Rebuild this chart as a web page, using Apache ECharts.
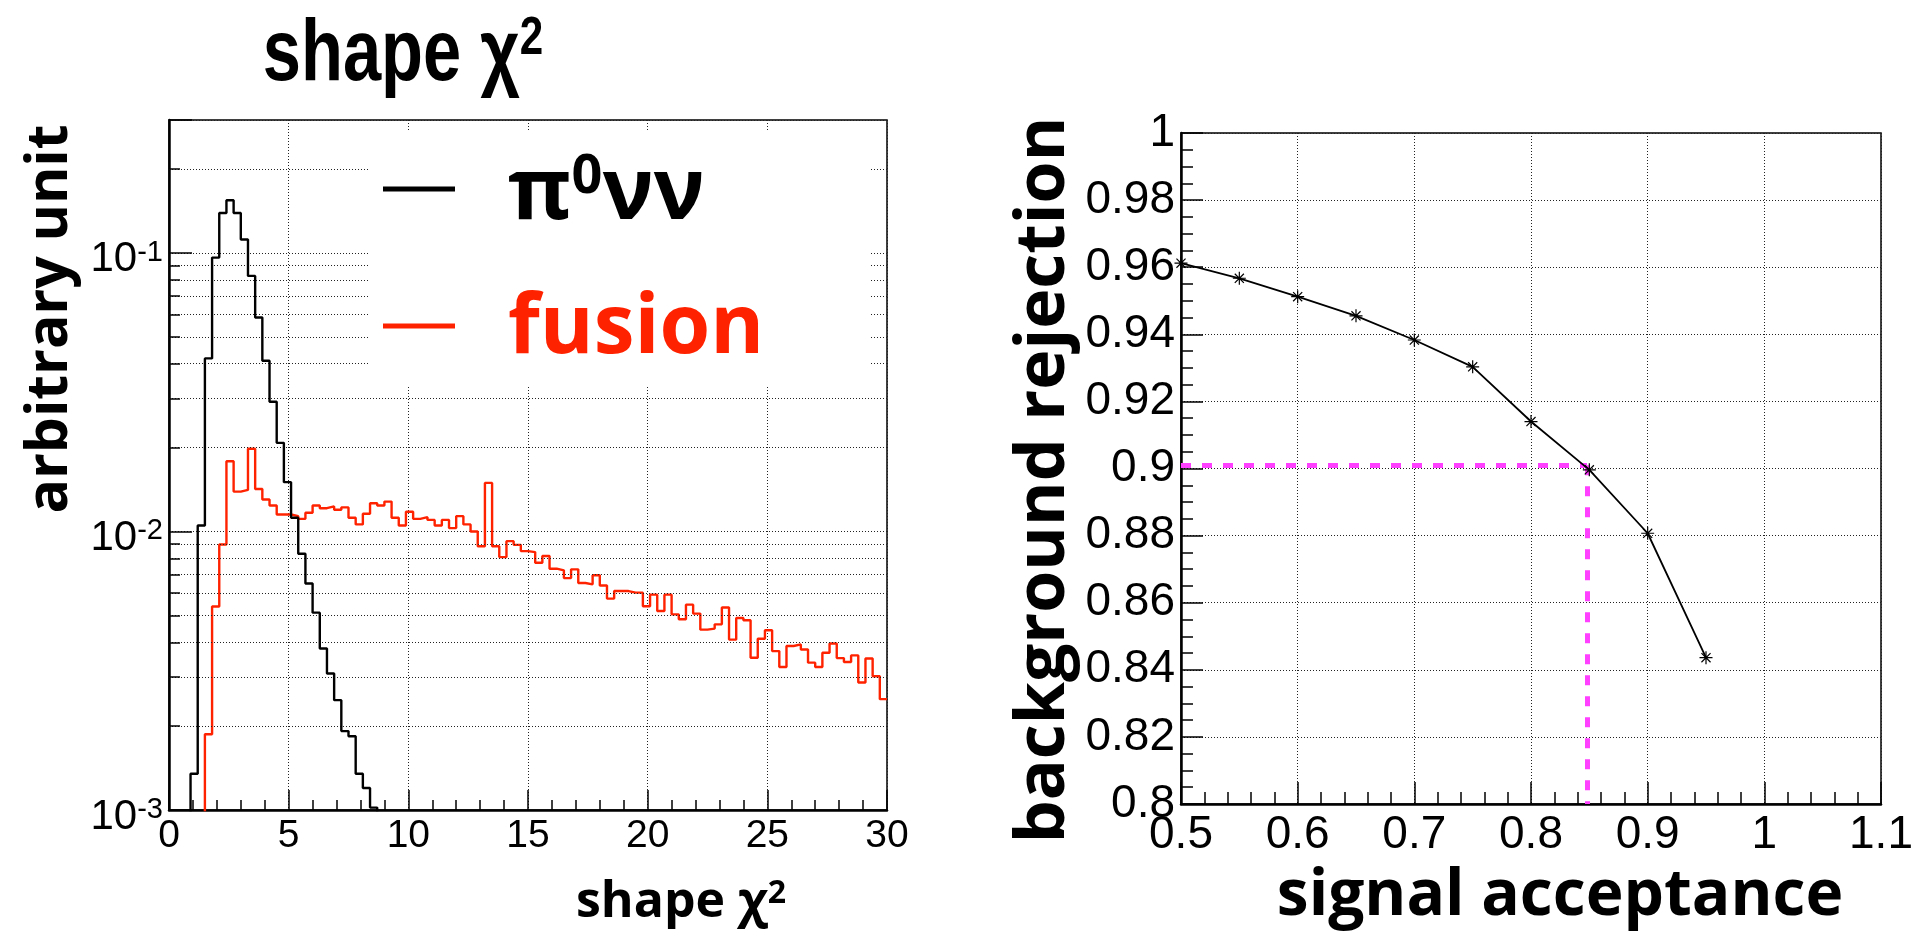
<!DOCTYPE html>
<html><head><meta charset="utf-8">
<script src="https://cdn.jsdelivr.net/npm/echarts@6/dist/echarts.min.js"></script>
<style>html,body{margin:0;padding:0;background:#fff;}#c{width:1930px;height:937px;}</style>
</head><body><div id="c"></div><script>
// ---------- data ----------
const binWidth = 0.3;           // histogram bin width (shape chi2 units), 100 bins 0..30
const pi0nunu = [0,0,0,0.00135,0.0105,0.0418,0.0962,0.139,0.1545,0.139,
  0.1117,0.0827,0.0586,0.041,0.0292,0.0208,0.01503,0.0112,0.00832,0.0065,
  0.00511,0.0038,0.00309,0.00248,0.00192,0.00184,0.00135,0.0012,0.00102,0,
  0,0,0,0,0,0,0,0,0,0, 0,0,0,0,0,0,0,0,0,0, 0,0,0,0,0,0,0,0,0,0,
  0,0,0,0,0,0,0,0,0,0, 0,0,0,0,0,0,0,0,0,0, 0,0,0,0,0,0,0,0,0,0,
  0,0,0,0,0,0,0,0,0,0];
const fusion = [0,0,0,0,0,0.00187,0.00538,0.00898,0.01786,0.0139,
  0.0141,0.0198,0.0142,0.01303,0.0124,0.0115,0.0115,0.01135,0.0111,0.01167,
  0.0124,0.01212,0.0123,0.01197,0.0122,0.0112,0.0106,0.01157,0.01263,0.0124,
  0.0128,0.0112,0.0105,0.01177,0.0111,0.01125,0.0110,0.0105,0.0110,0.01028,
  0.01135,0.0106,0.0100,0.00885,0.01494,0.00885,0.00809,0.00923,0.00895,0.0085,
  0.00843,0.00772,0.00816,0.00735,0.00725,0.0068,0.00731,0.00653,0.00646,0.00696,
  0.0064,0.00574,0.00611,0.00611,0.00603,0.00603,0.00539,0.00593,0.00518,0.00593,
  0.00504,0.00484,0.00546,0.00507,0.00444,0.00448,0.00464,0.00533,0.00409,0.00489,
  0.0048,0.00352,0.00412,0.00442,0.00372,0.00326,0.00388,0.00393,0.00377,0.00338,
  0.00326,0.00367,0.00396,0.00351,0.0034,0.00359,0.00287,0.0035,0.00302,0.0025];
const logMinorGrid = [0.002,0.003,0.004,0.005,0.006,0.007,0.008,0.009,
  0.02,0.03,0.04,0.05,0.06,0.07,0.08,0.09,0.2];
const acceptance = [0.5,0.55,0.6,0.65,0.7,0.75,0.8,0.85,0.9,0.95];
const rejection  = [0.9612,0.9567,0.9512,0.9455,0.9383,0.9303,0.914,0.8996,0.8807,0.8436];
const workingPoint = [0.848, 0.901];   // signal acceptance, background rejection
const seriesNames = ['π⁰νν', 'fusion'];

// ---------- helpers ----------
const FLOOR = 1e-5; // empty bins sit below the log axis and are clipped
function histData(vals){
  const pts = vals.map((v,i)=>[i*binWidth, v>0?v:FLOOR]);
  const last = vals[vals.length-1];
  pts.push([vals.length*binWidth, last>0?last:FLOOR]);
  return pts;
}
const gridLineStyle = {color:'#222', width:1, type:[1,2]};
const minorGridLines = [];
logMinorGrid.forEach(v=>{
  minorGridLines.push([{coord:[0,v], lineStyle:gridLineStyle},{coord:[30,v]}]);
  minorGridLines.push([{coord:[0,v], lineStyle:{color:'#000', width:1.5, type:'solid'}},{coord:[0.46,v]}]);
});

const RED = '#ff2200';
const BOLD = '"Open Sans", "DejaVu Sans", sans-serif';
const NUM = '"Liberation Sans", Arial, sans-serif';

const chart = echarts.init(document.getElementById('c'), null, {renderer:'canvas'});
const option = {
  animation:false,
  backgroundColor:'#fff',
  grid:[
    {left:169, top:120, width:718, height:690, show:true, borderColor:'#000', borderWidth:1.5, backgroundColor:'transparent'},
    {left:1181, top:133, width:700, height:671, show:true, borderColor:'#000', borderWidth:1.5, backgroundColor:'transparent'}
  ],
  xAxis:[
    {type:'value', gridIndex:0, min:0, max:30, interval:5,
     axisLine:{show:true, onZero:false, lineStyle:{color:'#000', width:2.5}},
     axisTick:{show:true, inside:true, length:20, lineStyle:{color:'#000', width:1.5}},
     minorTick:{show:true, splitNumber:5, length:10, lineStyle:{color:'#000', width:1.5}},
     axisLabel:{show:true, color:'#000', fontSize:39, fontFamily:NUM, margin:7},
     splitLine:{show:true, lineStyle:gridLineStyle}},
    {type:'value', gridIndex:1, min:0.5, max:1.1, interval:0.1,
     axisLine:{show:true, onZero:false, lineStyle:{color:'#000', width:2.5}},
     axisTick:{show:true, inside:true, length:22, lineStyle:{color:'#000', width:1.5}},
     minorTick:{show:true, splitNumber:5, length:12, lineStyle:{color:'#000', width:1.5}},
     axisLabel:{show:true, color:'#000', fontSize:46, fontFamily:NUM, margin:8},
     splitLine:{show:true, lineStyle:gridLineStyle}}
  ],
  yAxis:[
    {type:'log', gridIndex:0, min:0.001, max:0.3, logBase:10,
     axisLine:{show:true, lineStyle:{color:'#000', width:2.5}},
     axisTick:{show:true, inside:true, length:23, lineStyle:{color:'#000', width:1.5}},
     axisLabel:{show:true, color:'#000', fontSize:42, fontFamily:NUM, margin:6, overflow:'none', padding:[14,0,0,0],
       formatter:function(v){
         const e = Math.round(Math.log10(v));
         if (Math.abs(v/Math.pow(10,e)-1) > 1e-6) return '';
         return '{b|10}{s|' + e + '}';
       },
       rich:{
         b:{fontSize:42, fontFamily:NUM, color:'#000'},
         s:{fontSize:29, fontFamily:NUM, color:'#000', verticalAlign:'top', padding:[0,0,14,0]}}},
     splitLine:{show:true, lineStyle:gridLineStyle}},
    {type:'value', gridIndex:1, min:0.8, max:1, interval:0.02,
     axisLine:{show:true, onZero:false, lineStyle:{color:'#000', width:2.5}},
     axisTick:{show:true, inside:true, length:22, lineStyle:{color:'#000', width:1.5}},
     minorTick:{show:true, splitNumber:4, length:12, lineStyle:{color:'#000', width:1.5}},
     axisLabel:{show:true, color:'#000', fontSize:46, fontFamily:NUM, margin:6},
     splitLine:{show:true, lineStyle:gridLineStyle}}
  ],
  series:[
    {name:seriesNames[0], type:'line', xAxisIndex:0, yAxisIndex:0, step:'end', showSymbol:false, symbol:'none',
     clip:true, silent:true, data:histData(pi0nunu), lineStyle:{color:'#000', width:2.4}, z:5,
     markLine:{silent:true, symbol:['none','none'], label:{show:false}, animation:false, data:minorGridLines}},
    {name:seriesNames[1], type:'line', xAxisIndex:0, yAxisIndex:0, step:'end', showSymbol:false, symbol:'none',
     clip:true, silent:true, data:histData(fusion), lineStyle:{color:RED, width:2.4}, z:4},
    {name:'ROC', type:'line', xAxisIndex:1, yAxisIndex:1, silent:true,
     data:acceptance.map((a,i)=>[a, rejection[i]]),
     symbol:'path://M0,-6L0,6M-6,0L6,0M-4.2,-4.2L4.2,4.2M-4.2,4.2L4.2,-4.2',
     symbolSize:13, showSymbol:true,
     itemStyle:{color:'none', borderColor:'#000', borderWidth:1.2},
     lineStyle:{color:'#000', width:1.8}, z:5,
     markLine:{silent:true, symbol:['none','none'], label:{show:false}, animation:false,
       lineStyle:{color:'#ff40ff', width:5, type:[10,11]},
       data:[
         [{coord:[0.5, workingPoint[1]]},{coord:[workingPoint[0], workingPoint[1]]}],
         [{coord:[workingPoint[0], workingPoint[1]]},{coord:[workingPoint[0], 0.8]}]
       ]}}
  ],
  graphic:[
    // legend box (white) covering grid lines, as in the reference
    {type:'rect', z:100, shape:{x:370, y:131, width:499, height:256}, style:{fill:'#fff'}},
    {type:'rect', z:101, shape:{x:383, y:186.5, width:72, height:5}, style:{fill:'#000'}},
    {type:'rect', z:101, shape:{x:383, y:323.5, width:72, height:5}, style:{fill:RED}},
    {type:'text', z:101, x:508, y:194, style:{text:'π{s|0}νν', fill:'#000', fontSize:86, fontWeight:'bold', fontFamily:BOLD,
      align:'left', verticalAlign:'middle',
      rich:{s:{fontSize:54, fontWeight:'bold', fontFamily:BOLD, fill:'#000', verticalAlign:'top', padding:[0,0,22,0]}}}},
    {type:'text', z:101, x:508, y:330, style:{text:seriesNames[1], fill:RED, fontSize:82, fontWeight:'bold', fontFamily:BOLD,
      align:'left', verticalAlign:'middle'}},
    // titles
    {type:'text', z:101, x:403, y:56, scaleX:0.78, style:{text:'shape χ{s|2}', fill:'#000', fontSize:88, fontWeight:'bold', fontFamily:NUM,
      align:'center', verticalAlign:'middle',
      rich:{s:{fontSize:54, fontWeight:'bold', fontFamily:NUM, fill:'#000', verticalAlign:'top', padding:[0,0,20,0]}}}},
    {type:'text', z:101, x:51, y:319, rotation:Math.PI/2, style:{text:'arbitrary unit', fill:'#000', fontSize:57, fontWeight:'bold', fontFamily:BOLD,
      align:'center', verticalAlign:'middle'}},
    {type:'text', z:101, x:681, y:903, style:{text:'shape χ{s|2}', fill:'#000', fontSize:50, fontWeight:'bold', fontFamily:BOLD,
      align:'center', verticalAlign:'middle',
      rich:{s:{fontSize:32, fontWeight:'bold', fontFamily:BOLD, fill:'#000', verticalAlign:'top', padding:[0,0,12,0]}}}},
    {type:'text', z:101, x:1045, y:480, rotation:Math.PI/2, style:{text:'background rejection', fill:'#000', fontSize:68, fontWeight:'bold', fontFamily:BOLD,
      align:'center', verticalAlign:'middle'}},
    {type:'text', z:101, x:1560, y:897, style:{text:'signal acceptance', fill:'#000', fontSize:64, fontWeight:'bold', fontFamily:BOLD,
      align:'center', verticalAlign:'middle'}}
  ]
};
chart.setOption(option);
</script></body></html>
